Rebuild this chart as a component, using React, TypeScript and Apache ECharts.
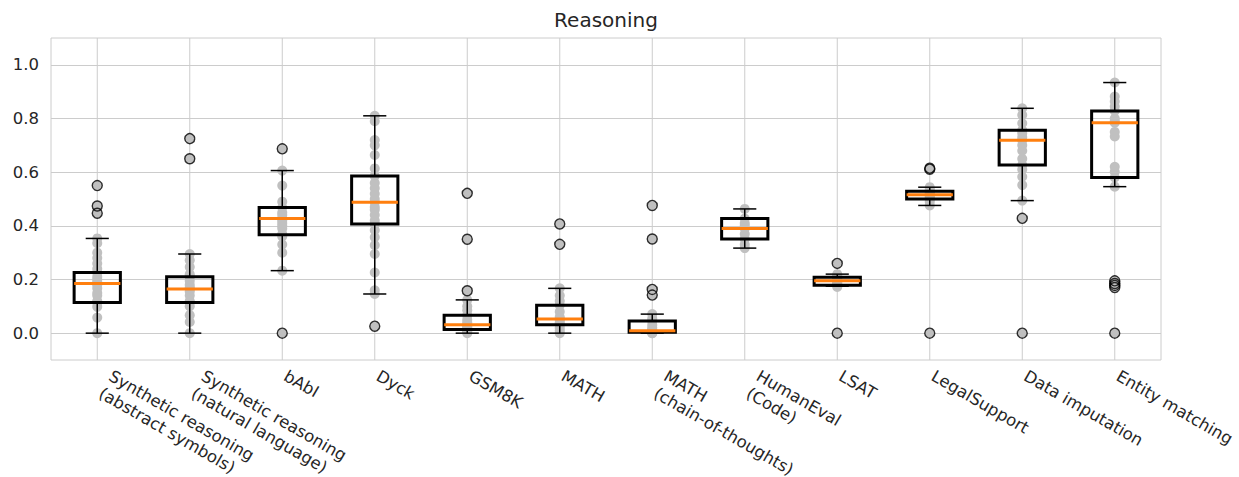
import React, { useEffect, useRef } from "react";
import * as echarts from "echarts";

const categories = [
  "Synthetic reasoning\n(abstract symbols)",
  "Synthetic reasoning\n(natural language)",
  "bAbI",
  "Dyck",
  "GSM8K",
  "MATH",
  "MATH\n(chain-of-thoughts)",
  "HumanEval\n(Code)",
  "LSAT",
  "LegalSupport",
  "Data imputation",
  "Entity matching",
];

const whiskerLow = [0, 0, 0.233, 0.146, 0, 0, 0, 0.317, 0.175, 0.476, 0.494, 0.546];
const q1 = [0.114, 0.114, 0.367, 0.407, 0.014, 0.031, 0.003, 0.351, 0.179, 0.5, 0.627, 0.58];
const medians = [0.185, 0.165, 0.427, 0.488, 0.031, 0.053, 0.009, 0.39, 0.195, 0.516, 0.719, 0.784];
const q3 = [0.226, 0.21, 0.468, 0.586, 0.067, 0.104, 0.045, 0.427, 0.208, 0.529, 0.756, 0.828];
const whiskerHigh = [0.353, 0.295, 0.606, 0.81, 0.124, 0.167, 0.071, 0.463, 0.22, 0.544, 0.838, 0.934];

const outliers: number[][] = [
  [0.447, 0.474, 0.55],
  [0.65, 0.725],
  [0, 0.687],
  [0.026],
  [0.158, 0.35, 0.521],
  [0.331, 0.407],
  [0.142, 0.163, 0.351, 0.476],
  [],
  [0, 0.26],
  [0, 0.611, 0.615],
  [0, 0.428],
  [0, 0.17, 0.178, 0.185, 0.195],
];

const points: number[][] = [
  [0, 0.058, 0.098, 0.114, 0.12, 0.14, 0.15, 0.167, 0.18, 0.185, 0.19, 0.2, 0.21, 0.226, 0.24, 0.26, 0.28, 0.3, 0.335, 0.353, 0.447, 0.474, 0.55],
  [0, 0.042, 0.067, 0.1, 0.114, 0.12, 0.14, 0.155, 0.165, 0.17, 0.18, 0.195, 0.21, 0.22, 0.247, 0.272, 0.295, 0.65, 0.725],
  [0, 0.233, 0.3, 0.33, 0.36, 0.37, 0.39, 0.4, 0.41, 0.42, 0.427, 0.44, 0.45, 0.468, 0.49, 0.55, 0.606, 0.687],
  [0.026, 0.146, 0.16, 0.226, 0.295, 0.328, 0.357, 0.384, 0.407, 0.42, 0.44, 0.46, 0.47, 0.488, 0.5, 0.52, 0.54, 0.56, 0.586, 0.614, 0.664, 0.7, 0.72, 0.79, 0.81],
  [0, 0.005, 0.01, 0.014, 0.02, 0.025, 0.031, 0.04, 0.05, 0.067, 0.085, 0.1, 0.124, 0.158, 0.35, 0.521],
  [0, 0.01, 0.02, 0.031, 0.04, 0.05, 0.053, 0.06, 0.08, 0.104, 0.12, 0.14, 0.167, 0.331, 0.407],
  [0, 0, 0.003, 0.005, 0.009, 0.012, 0.02, 0.03, 0.045, 0.055, 0.071, 0.142, 0.163, 0.351, 0.476],
  [0.317, 0.33, 0.351, 0.37, 0.39, 0.4, 0.41, 0.427, 0.463],
  [0, 0.172, 0.179, 0.185, 0.19, 0.195, 0.2, 0.205, 0.208, 0.215, 0.22, 0.26],
  [0, 0.476, 0.49, 0.5, 0.505, 0.51, 0.516, 0.52, 0.525, 0.529, 0.535, 0.544, 0.611, 0.615],
  [0, 0.428, 0.494, 0.552, 0.583, 0.61, 0.627, 0.65, 0.68, 0.7, 0.719, 0.73, 0.745, 0.756, 0.782, 0.813, 0.838],
  [0, 0.17, 0.178, 0.185, 0.195, 0.546, 0.58, 0.602, 0.62, 0.733, 0.75, 0.784, 0.79, 0.8, 0.828, 0.845, 0.863, 0.882, 0.934],
];

const yMin = -0.1;
const yMax = 1.1;
const titleText = "Reasoning";

const FONT = "DejaVu Sans";
const TEXT_COLOR = "#262626";
const GRID_COLOR = "#cccccc";

export default function App() {
  const ref = useRef<HTMLDivElement>(null);

  useEffect(() => {
    document.body.style.margin = "0";
    if (!ref.current) return;
    const chart = echarts.init(ref.current, undefined, { renderer: "svg" });

    const idxData = categories.map((_, i) => [i, medians[i]]);
    const pointData: number[][] = [];
    points.forEach((arr, i) => arr.forEach((v) => pointData.push([i, v])));
    const outlierData: number[][] = [];
    outliers.forEach((arr, i) => arr.forEach((v) => outlierData.push([i, v])));

    const lh = 20;
    const fs = 16.5;
    const ang = Math.PI / 6;
    const downX = -Math.sin(ang);
    const downY = Math.cos(ang);

    const option: any = {
      animation: false,
      backgroundColor: "#ffffff",
      title: {
        text: titleText,
        left: 606,
        textAlign: "center",
        top: 10,
        padding: 0,
        textStyle: { fontFamily: FONT, fontSize: 20, fontWeight: "normal", color: TEXT_COLOR },
      },
      grid: {
        left: 51,
        right: 78,
        top: 38,
        bottom: 117,
        show: true,
        borderColor: GRID_COLOR,
        borderWidth: 1,
        backgroundColor: "transparent",
      },
      xAxis: {
        type: "category",
        data: categories,
        boundaryGap: true,
        axisLine: { show: false },
        axisTick: { show: false },
        axisLabel: { show: false },
        splitLine: { show: false },
      },
      yAxis: {
        type: "value",
        min: yMin,
        max: yMax,
        interval: 0.1,
        axisLine: { show: false },
        axisTick: { show: false },
        axisLabel: {
          fontFamily: FONT,
          fontSize: fs,
          color: TEXT_COLOR,
          margin: 12,
          formatter: (v: number) => {
            const k = Math.round(v * 10);
            return k % 2 === 0 && k >= 0 && k <= 10 ? (k / 10).toFixed(1) : "";
          },
        },
        splitLine: { show: true, lineStyle: { color: ["transparent", GRID_COLOR], width: 1 } },
      },
      series: [
        {
          type: "custom",
          name: "vgrid",
          silent: true,
          z: 1,
          data: idxData,
          encode: { x: 0, y: 1 },
          renderItem: (params: any, api: any) => {
            const i = api.value(0);
            const top = api.coord([i, yMax]);
            const bot = api.coord([i, yMin]);
            return {
              type: "line",
              shape: { x1: top[0], y1: top[1], x2: bot[0], y2: bot[1] },
              style: { stroke: GRID_COLOR, lineWidth: 1 },
            };
          },
        },
        {
          type: "scatter",
          name: "points",
          silent: true,
          z: 2,
          symbol: "circle",
          symbolSize: 10,
          itemStyle: { color: "#c0c0c0", opacity: 1 },
          data: pointData,
        },
        {
          type: "custom",
          name: "boxes",
          silent: true,
          z: 3,
          data: idxData,
          encode: { x: 0, y: 1 },
          renderItem: (params: any, api: any) => {
            const i = api.value(0);
            const bw = api.size([1, 0])[0] * 0.5;
            const cw = bw * 0.5;
            const pLow = api.coord([i, whiskerLow[i]]);
            const pQ1 = api.coord([i, q1[i]]);
            const pMed = api.coord([i, medians[i]]);
            const pQ3 = api.coord([i, q3[i]]);
            const pHigh = api.coord([i, whiskerHigh[i]]);
            const cx = pMed[0];
            const black = { stroke: "#000000", lineWidth: 1.5, fill: null };
            return {
              type: "group",
              children: [
                { type: "line", shape: { x1: cx, y1: pQ1[1], x2: cx, y2: pLow[1] }, style: black },
                { type: "line", shape: { x1: cx, y1: pQ3[1], x2: cx, y2: pHigh[1] }, style: black },
                { type: "line", shape: { x1: cx - cw / 2, y1: pLow[1], x2: cx + cw / 2, y2: pLow[1] }, style: black },
                { type: "line", shape: { x1: cx - cw / 2, y1: pHigh[1], x2: cx + cw / 2, y2: pHigh[1] }, style: black },
                {
                  type: "rect",
                  shape: { x: cx - bw / 2, y: pQ3[1], width: bw, height: pQ1[1] - pQ3[1] },
                  style: { stroke: "#000000", lineWidth: 3, fill: null },
                },
                {
                  type: "line",
                  shape: { x1: cx - bw / 2, y1: pMed[1], x2: cx + bw / 2, y2: pMed[1] },
                  style: { stroke: "#ff7f0e", lineWidth: 3 },
                },
              ],
            };
          },
        },
        {
          type: "scatter",
          name: "outliers",
          silent: true,
          z: 4,
          symbol: "circle",
          symbolSize: 10,
          itemStyle: { color: "rgba(0,0,0,0)", borderColor: "#000000", borderWidth: 1.4 },
          data: outlierData,
        },
        {
          type: "custom",
          name: "labels",
          silent: true,
          z: 5,
          clip: false,
          data: idxData,
          encode: { x: 0, y: 1 },
          renderItem: (params: any, api: any) => {
            const i = api.value(0);
            const base = api.coord([i, yMin]);
            const lines = categories[i].split("\n");
            const n = lines.length;
            const fx = base[0] + 8 + (n - 1) * lh * 0.5;
            const fy = base[1] + 6;
            const pad = (lh - fs) / 2;
            return {
              type: "group",
              children: lines.map((line, j) => {
                const d = j * lh + pad;
                return {
                  type: "text",
                  x: fx + d * downX,
                  y: fy + d * downY,
                  rotation: -ang,
                  style: {
                    text: line,
                    fontFamily: FONT,
                    fontSize: fs,
                    lineHeight: fs,
                    fill: TEXT_COLOR,
                    align: "left",
                    verticalAlign: "top",
                  },
                };
              }),
            };
          },
        },
      ],
    };

    chart.setOption(option);
    return () => chart.dispose();
  }, []);

  return <div ref={ref} style={{ width: 1239, height: 477 }} />;
}
